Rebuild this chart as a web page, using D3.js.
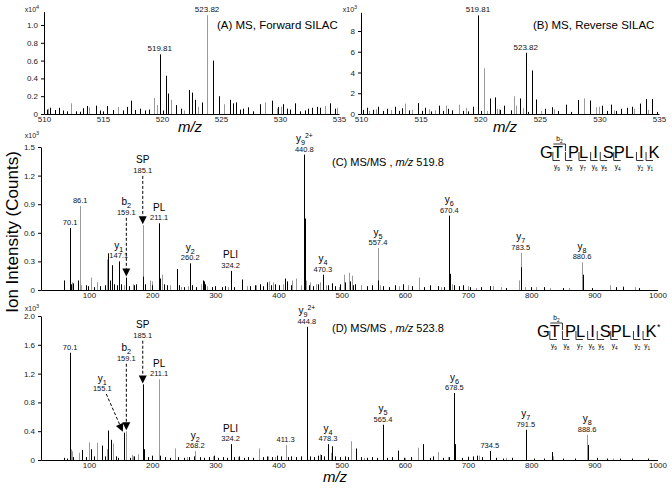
<!DOCTYPE html>
<html>
<head>
<meta charset="utf-8">
<script src="https://cdn.jsdelivr.net/npm/d3@7"></script>
<style>
  body { margin: 0; background: #fff; }
  svg { display: block; font-family: "Liberation Sans", Arial, sans-serif; }
</style>
</head>
<body>
<svg id="chart" width="672" height="489"></svg>
<script>
// ---- data (m/z, intensity in axis units) ----
const peaksA_dark = [[510.23,0.05],[510.51,0.07],[510.93,0.045],[511.3,0.07],[511.64,0.04],[511.92,0.03],[512.71,0.03],[513.05,0.025],[513.33,0.065],[513.67,0.09],[514.38,0.094],[514.75,0.04],[515.03,0.03],[515.31,0.09],[515.87,0.045],[516.72,0.04],[517.0,0.08],[517.34,0.15],[517.71,0.045],[518.14,0.06],[518.56,0.04],[518.93,0.05],[519.81,0.67],[520.05,0.04],[520.31,0.43],[520.5,0.23],[521.22,0.1],[521.65,0.06],[522.31,0.27],[522.57,0.24],[522.8,0.16],[523.36,0.13],[524.35,0.6],[524.83,0.2],[525.76,0.16],[525.99,0.12],[526.27,0.13],[526.61,0.05],[526.89,0.06],[527.31,0.075],[527.74,0.03],[528.31,0.11],[529.3,0.15],[529.86,0.08],[530.23,0.11],[530.57,0.06],[530.85,0.05],[531.27,0.12],[531.69,0.03],[532.12,0.04],[532.4,0.06],[532.69,0.07],[533.11,0.08],[533.39,0.07],[534.24,0.12],[534.66,0.06]];
const peaksA_light = [[510.35,0.06],[512.26,0.12],[513.8,0.075],[516.3,0.08],[519.32,0.18],[519.55,0.1],[520.8,0.16],[521.86,0.04],[523.08,0.08],[523.82,1.11],[525.28,0.11],[528.73,0.13],[529.72,0.06],[530.05,0.08],[533.81,0.09],[534.8,0.07]];

const peaksB_dark = [[510.19,0.4],[510.47,0.6],[511.03,0.4],[511.44,0.7],[511.86,0.3],[512.14,0.5],[512.83,0.7],[513.2,0.3],[513.45,0.55],[514.0,0.35],[514.78,1.05],[515.1,0.3],[515.4,0.6],[515.9,0.25],[516.58,0.8],[516.9,0.3],[517.3,0.5],[517.6,0.35],[518.55,0.3],[519.0,0.25],[519.36,0.7],[519.81,9.5],[520.05,0.3],[520.81,1.5],[521.2,1.6],[521.65,0.4],[522.0,0.8],[522.55,0.35],[523.3,1.5],[523.82,5.9],[524.05,0.2],[524.32,4.2],[524.72,1.4],[525.4,0.5],[526.0,0.65],[526.5,0.3],[527.2,0.9],[527.6,0.2],[528.2,1.35],[529.2,1.3],[530.2,0.8],[530.6,0.3],[531.0,0.9],[531.4,0.3],[531.8,0.5],[532.3,0.6],[532.75,0.7],[533.4,1.0],[533.9,1.45],[534.4,1.45],[534.8,0.2]];
const peaksB_light = [[510.7,0.3],[511.25,0.45],[512.5,0.4],[513.67,1.0],[514.3,0.4],[515.7,0.45],[516.2,0.35],[517.1,0.8],[518.25,0.9],[518.8,0.6],[520.31,4.4],[520.55,0.3],[521.4,0.5],[521.55,0.45],[522.8,1.7],[523.0,0.8],[523.6,0.55],[525.1,0.3],[526.2,0.45],[528.7,1.5],[529.7,0.65],[530.0,0.7],[531.2,0.35],[532.9,0.5],[534.1,0.4]];

const peaksC_dark = [[60.7,0.1],[70.1,0.65],[72,0.06],[74,0.07],[83,0.1],[95,0.05],[99,0.04],[108,0.03],[118,0.04],[125,0.05],[130,0.385],[133,0.1],[136,0.26],[140,0.06],[144,0.05],[147.1,0.3],[151,0.06],[159.1,0.13],[164,0.04],[172,0.05],[175,0.06],[186,0.14],[188,0.06],[199,0.05],[211.1,0.7],[213,0.12],[218,0.06],[224,0.05],[238.7,0.22],[242,0.05],[250,0.03],[260.2,0.28],[263,0.05],[270,0.03],[280,0.1],[282,0.09],[284,0.06],[295,0.03],[300,0.04],[310,0.03],[315,0.04],[324.2,0.2],[330,0.03],[342.7,0.11],[355,0.04],[362,0.05],[370,0.06],[376,0.04],[382,0.08],[388,0.05],[395,0.06],[400,0.05],[410,0.12],[413,0.09],[420,0.05],[440.8,1.42],[441.3,0.75],[441.8,0.3],[448,0.05],[455,0.04],[462,0.06],[470.3,0.16],[478,0.05],[485,0.07],[490,0.04],[497,0.06],[505,0.08],[513,0.09],[518,0.05],[521,0.06],[540,0.04],[548,0.05],[557.8,0.1],[565,0.04],[575,0.03],[585,0.05],[597,0.06],[612,0.04],[630,0.03],[640,0.05],[652,0.04],[662,0.03],[670.4,0.78],[671.4,0.17],[678,0.05],[686,0.04],[692,0.05],[703,0.03],[720,0.03],[735,0.04],[760,0.02],[784.3,0.24],[800,0.03],[820,0.03],[850,0.02],[881.4,0.16],[897,0.02],[935,0.03],[945,0.03],[970,0.02]];
const peaksC_light = [[73,0.08],[86.1,0.88],[88,0.05],[103,0.13],[112.6,0.08],[128.8,0.32],[155,0.05],[170,0.06],[185.1,0.68],[196.5,0.1],[199.5,0.09],[215,0.16],[229,0.05],[245,0.03],[256,0.04],[278,0.06],[287,0.04],[320,0.03],[350,0.04],[365,0.05],[385,0.09],[392,0.08],[407,0.06],[422,0.1],[427,0.12],[435,0.05],[444,0.1],[450,0.08],[460,0.06],[465,0.08],[475,0.05],[496,0.03],[503.7,0.16],[511.6,0.18],[516,0.15],[531,0.05],[557.4,0.44],[560,0.05],[590,0.04],[605,0.05],[622,0.13],[640,0.04],[658,0.03],[675,0.06],[700,0.04],[712,0.02],[740,0.04],[752,0.03],[780,0.1],[783.5,0.39],[790,0.03],[808,0.03],[830,0.02],[860,0.02],[880.6,0.29],[925,0.05],[945,0.04],[965,0.03]];

const peaksD_dark = [[60,0.03],[65,0.02],[70.1,1.49],[75,0.04],[89.2,0.14],[95,0.04],[102.4,0.15],[108,0.05],[120,0.2],[125,0.05],[130.4,0.41],[134.6,0.28],[142,0.05],[146,0.03],[155.1,0.38],[165,0.03],[172,0.05],[185.1,1.05],[186.5,0.15],[193,0.04],[199,0.06],[212,0.06],[220,0.04],[228,0.03],[241,0.04],[250,0.03],[258,0.04],[266,0.05],[275,0.04],[282,0.03],[290,0.04],[298,0.06],[305,0.03],[312,0.04],[318,0.03],[324.2,0.22],[330,0.04],[338,0.05],[345,0.03],[352,0.04],[360,0.03],[375,0.04],[382,0.05],[390,0.04],[398,0.06],[404,0.05],[415,0.04],[420,0.05],[428,0.04],[435,0.05],[444.8,1.85],[445.3,0.46],[450,0.05],[456,0.04],[462,0.06],[468,0.07],[472,0.05],[478.3,0.22],[484.7,0.19],[490,0.05],[498,0.04],[505,0.05],[510,0.04],[522.7,0.16],[530,0.04],[540,0.03],[548,0.04],[556,0.03],[565.4,0.49],[572,0.03],[580,0.04],[588.7,0.13],[598,0.03],[610,0.04],[629.4,0.22],[640,0.03],[645,0.05],[660,0.03],[670,0.04],[678.5,0.93],[679.5,0.22],[690,0.03],[700,0.04],[708,0.05],[715,0.06],[722,0.04],[734.5,0.125],[745,0.03],[755,0.02],[770,0.03],[791.5,0.42],[805,0.02],[820,0.02],[832.7,0.11],[850,0.02],[870,0.02],[889.5,0.21],[905,0.03],[920,0.02],[940,0.02],[960,0.02],[985,0.02]];
const peaksD_light = [[71.2,0.15],[73,0.12],[83.4,0.1],[100.3,0.245],[113,0.24],[128.8,0.15],[137.3,0.23],[159.1,0.4],[168,0.07],[170,0.05],[177,0.08],[211.1,1.12],[236,0.16],[255,0.04],[268.2,0.125],[296,0.05],[336,0.04],[368.6,0.16],[384,0.05],[395,0.04],[411.3,0.21],[445.3,0.6],[465,0.08],[483,0.1],[514.3,0.26],[535,0.03],[600,0.03],[621.5,0.17],[652,0.11],[668,0.04],[700,0.05],[718,0.06],[760,0.03],[792.3,0.14],[834,0.05],[888.6,0.35],[930,0.02]];

// ticks
const ticksMS = [510, 515, 520, 525, 530, 535];
const ticksMSMS = [100, 200, 300, 400, 500, 600, 700, 800, 900, 1000];
const yTicksA = [0, 0.2, 0.4, 0.6, 0.8, 1.0];
const yTicksB = [0, 2, 4, 6, 8];
const yTicksC = [0, 0.3, 0.6, 0.9, 1.2, 1.5];
const yTicksD = [0, 0.4, 0.8, 1.2, 1.6, 2.0];

// peak annotations (labelAt = value-label level when label is lifted with an arrow)
const annA = [{mz: 519.81, text: '519.81'}, {mz: 523.82, text: '523.82'}];
const annB = [{mz: 519.81, text: '519.81'}, {mz: 523.82, text: '523.82'}];
const annC = [
  {mz: 440.8, ion: 'y', sub: '9', sup: '2+', text: '440.8'},
  {mz: 70.1, text: '70.1'},
  {mz: 86.1, text: '86.1'},
  {mz: 185.1, ion: 'SP', text: '185.1', labelAt: 1.26},
  {mz: 159.1, ion: 'b', sub: '2', text: '159.1', labelAt: 0.82},
  {mz: 211.1, ion: 'PL', text: '211.1'},
  {mz: 147.1, ion: 'y', sub: '1', text: '147.1'},
  {mz: 260.2, ion: 'y', sub: '2', text: '260.2'},
  {mz: 324.2, ion: 'PLI', text: '324.2'},
  {mz: 470.3, ion: 'y', sub: '4', text: '470.3'},
  {mz: 557.4, ion: 'y', sub: '5', text: '557.4'},
  {mz: 670.4, ion: 'y', sub: '6', text: '670.4'},
  {mz: 783.5, ion: 'y', sub: '7', text: '783.5'},
  {mz: 880.6, ion: 'y', sub: '8', text: '880.6'},
];
const annD = [
  {mz: 444.8, ion: 'y', sub: '9', sup: '2+', text: '444.8'},
  {mz: 70.1, text: '70.1'},
  {mz: 86.1, text: '86.1'},
  {mz: 185.1, ion: 'SP', text: '185.1', labelAt: 1.74},
  {mz: 159.1, ion: 'b', sub: '2', text: '159.1', labelAt: 1.42},
  {mz: 155.1, ion: 'y', sub: '1', text: '155.1', labelAt: 1.0, labelMz: 121},
  {mz: 211.1, ion: 'PL', text: '211.1'},
  {mz: 268.2, ion: 'y', sub: '2', text: '268.2'},
  {mz: 324.2, ion: 'PLI', text: '324.2'},
  {mz: 411.3, text: '411.3'},
  {mz: 478.3, ion: 'y', sub: '4', text: '478.3'},
  {mz: 565.4, ion: 'y', sub: '5', text: '565.4'},
  {mz: 678.5, ion: 'y', sub: '6', text: '678.5'},
  {mz: 734.5, text: '734.5'},
  {mz: 791.5, ion: 'y', sub: '7', text: '791.5'},
  {mz: 888.6, ion: 'y', sub: '8', text: '888.6'},
];

// peptide
const peptide = ['G', 'T', 'P', 'L', 'I', 'S', 'P', 'L', 'I', 'K'];
const yBonds = [0, 1, 2, 3, 4, 5, 7, 8];
const bBonds = [1];

// ---- drawing ----
const svg = d3.select('#chart');
const GRAY = '#9a9a9a';
const fmt1 = (v) => (v === 0 ? '0' : d3.format('.1f')(v));

const ionText = (g, x, y, ion, sub, sup, size) => {
  const t = g.append('text').attr('x', x).attr('y', y)
    .attr('text-anchor', 'middle').attr('font-size', size);
  t.append('tspan').text(ion);
  if (sub) t.append('tspan').attr('dy', size * 0.3).attr('font-size', size * 0.72).text(sub);
  if (sup) t.append('tspan').attr('dy', -size * 0.75).attr('font-size', size * 0.68).text(sup);
  return t;
};

const arrow = (g, x1, y1, x2, y2) => {
  const len = Math.hypot(x2 - x1, y2 - y1);
  const ux = (x2 - x1) / len, uy = (y2 - y1) / len;
  const hl = 8, hw = 4;
  g.append('line')
    .attr('x1', x1).attr('y1', y1)
    .attr('x2', x2 - ux * hl).attr('y2', y2 - uy * hl)
    .attr('stroke', '#000').attr('stroke-width', 1).attr('stroke-dasharray', '3,2');
  const bx = x2 - ux * hl, by = y2 - uy * hl;
  g.append('path')
    .attr('d', `M${x2},${y2}L${bx - uy * hw},${by + ux * hw}L${bx + uy * hw},${by - ux * hw}Z`)
    .attr('fill', '#000');
};

const drawSpectrum = (o) => {
  const g = svg.append('g');
  const x = d3.scaleLinear().domain(o.xDomain).range(o.xRange);
  const y = d3.scaleLinear().domain(o.yDomain).range(o.yRange);

  // peaks: grey trace below, black on top
  const peak = (sel, data, color) => sel.selectAll('line').data(data).join('line')
    .attr('x1', (d) => Math.round(x(d[0])) + 0.5)
    .attr('x2', (d) => Math.round(x(d[0])) + 0.5)
    .attr('y1', y(0))
    .attr('y2', (d) => y(d[1]))
    .attr('stroke', color).attr('stroke-width', 1);
  peak(g.append('g'), o.light, GRAY);
  peak(g.append('g'), o.dark, '#000');

  const xAxis = g.append('g').attr('transform', `translate(0,${y(0)})`)
    .call(d3.axisBottom(x).tickValues(o.xTicks).tickFormat(d3.format('d'))
      .tickSize(0).tickPadding(2.5).tickSizeOuter(0));
  const yAxis = g.append('g').attr('transform', `translate(${o.xRange[0]},0)`)
    .call(d3.axisLeft(y).tickValues(o.yTicks).tickFormat(o.yFormat).tickSize(3).tickPadding(3).tickSizeOuter(0));
  [xAxis, yAxis].forEach((ax) => {
    ax.select('.domain').attr('stroke', '#000');
    ax.selectAll('.tick line').attr('stroke', '#000');
    ax.selectAll('text').attr('font-size', 8).attr('fill', '#222')
      .attr('font-family', '"Liberation Sans", Arial, sans-serif');
  });

  // exponent label
  const ex = g.append('text').attr('x', o.expAt[0]).attr('y', o.expAt[1])
    .attr('text-anchor', 'middle').attr('font-size', 7).attr('fill', '#222');
  ex.append('tspan').text('x10');
  ex.append('tspan').attr('dy', -3).attr('font-size', 5.5).text(o.exp);

  // annotations
  const all = o.dark.concat(o.light);
  const heightAt = (mz) => d3.max(all.filter((d) => Math.abs(d[0] - mz) < 0.3), (d) => d[1]);
  o.ann.forEach((a) => {
    const px = x(a.mz);
    const top = y(heightAt(a.mz));
    const lx = a.labelMz ? x(a.labelMz) : px;
    const vc = a.labelAt ? y(a.labelAt) : top - 6;
    g.append('text').attr('x', lx).attr('y', vc + 3)
      .attr('text-anchor', 'middle').attr('font-size', o.valueSize).attr('fill', '#111')
      .text(a.text);
    if (a.ion) ionText(g, lx, vc - 6.5, a.ion, a.sub, a.sup, 10);
    if (a.labelAt) {
      if (a.labelMz) arrow(g, lx + 4, vc + 6, px - 1, top - 1);
      else arrow(g, px, vc + 6, px, top - 1);
    }
  });

  // title
  const t = g.append('text').attr('x', o.titleAt[0]).attr('y', o.titleAt[1])
    .attr('font-size', o.titleSize).attr('fill', '#000');
  o.title.forEach((part) => {
    const s = t.append('tspan').text(part.t);
    if (part.i) s.attr('font-style', 'italic');
  });
  return {x, y};
};

drawSpectrum({
  dark: peaksA_dark, light: peaksA_light, ann: annA,
  xDomain: [510, 535], xRange: [44, 339], yDomain: [0, 1.15], yRange: [114, 11.65],
  xTicks: ticksMS, yTicks: yTicksA, yFormat: fmt1, exp: '4', expAt: [32, 12],
  valueSize: 8, title: [{t: '(A) MS, Forward SILAC'}], titleAt: [217, 29], titleSize: 11.5,
});
drawSpectrum({
  dark: peaksB_dark, light: peaksB_light, ann: annB,
  xDomain: [510, 535], xRange: [361, 659], yDomain: [0, 9.8], yRange: [114, 12.3],
  xTicks: ticksMS, yTicks: yTicksB, yFormat: d3.format('d'), exp: '3', expAt: [350, 12],
  valueSize: 8, title: [{t: '(B) MS, Reverse SILAC'}], titleAt: [533, 29], titleSize: 11.5,
});
drawSpectrum({
  dark: peaksC_dark, light: peaksC_light, ann: annC,
  xDomain: [24, 1000], xRange: [41, 657.5], yDomain: [0, 1.5], yRange: [290, 147],
  xTicks: ticksMSMS, yTicks: yTicksC, yFormat: fmt1, exp: '3', expAt: [32, 137.5],
  valueSize: 7.5, title: [{t: '(C) MS/MS , '}, {t: 'm/z', i: true}, {t: ' 519.8'}], titleAt: [332, 166], titleSize: 11,
});
drawSpectrum({
  dark: peaksD_dark, light: peaksD_light, ann: annD,
  xDomain: [24, 1000], xRange: [41, 657.5], yDomain: [0, 2.0], yRange: [460, 316],
  xTicks: ticksMSMS, yTicks: yTicksD, yFormat: fmt1, exp: '3', expAt: [32, 310.5],
  valueSize: 7.5, title: [{t: '(D) MS/MS , '}, {t: 'm/z', i: true}, {t: ' 523.8'}], titleAt: [332, 332], titleSize: 11,
});

// axis titles
[[190, 132], [505, 132], [335, 482]].forEach(([tx, ty]) => {
  svg.append('text').attr('x', tx).attr('y', ty).attr('text-anchor', 'middle')
    .attr('font-size', 15).attr('font-style', 'italic').text('m/z');
});
svg.append('text').attr('transform', 'translate(18,232) rotate(-90)')
  .attr('text-anchor', 'middle').attr('font-size', 17).text('Ion Intensity (Counts)');

// peptide sequence with fragment brackets
const gapBonds = [1, 3, 4, 7, 8];
const drawPeptide = (x0, base, mod) => {
  const g = svg.append('g');
  let cx = x0;
  const bondX = [], leftX = [];
  peptide.forEach((r, i) => {
    leftX.push(cx);
    const t = g.append('text').attr('x', cx).attr('y', base).attr('font-size', 16.5).text(r);
    cx += t.node().getComputedTextLength();
    if (i < peptide.length - 1) {
      const gap = gapBonds.includes(i) ? 5 : 0;
      bondX.push(cx + gap / 2);
      cx += gap;
    }
  });
  if (mod) g.append('text').attr('x', cx + 0.5).attr('y', base - 7).attr('font-size', 9).text(mod);
  yBonds.forEach((i) => {
    const bx = bondX[i];
    g.append('path').attr('d', `M${bx},${base - 6}V${base + 2.5}H${bx + 7}`)
      .attr('fill', 'none').attr('stroke', '#000').attr('stroke-width', 0.8);
    ionText(g, bx + 4, base + 11, 'y', String(peptide.length - 1 - i), null, 6.5);
  });
  bBonds.forEach((i) => {
    const bx = bondX[i];
    const lx = leftX[i] + 0.5;
    g.append('path').attr('d', `M${lx},${base - 14}H${bx}V${base - 7}`)
      .attr('fill', 'none').attr('stroke', '#000').attr('stroke-width', 0.8);
    ionText(g, (lx + bx) / 2, base - 17, 'b', String(i + 1), null, 6.5);
  });
};
drawPeptide(540, 158, null);
drawPeptide(537, 337, '*');
</script>
</body>
</html>
